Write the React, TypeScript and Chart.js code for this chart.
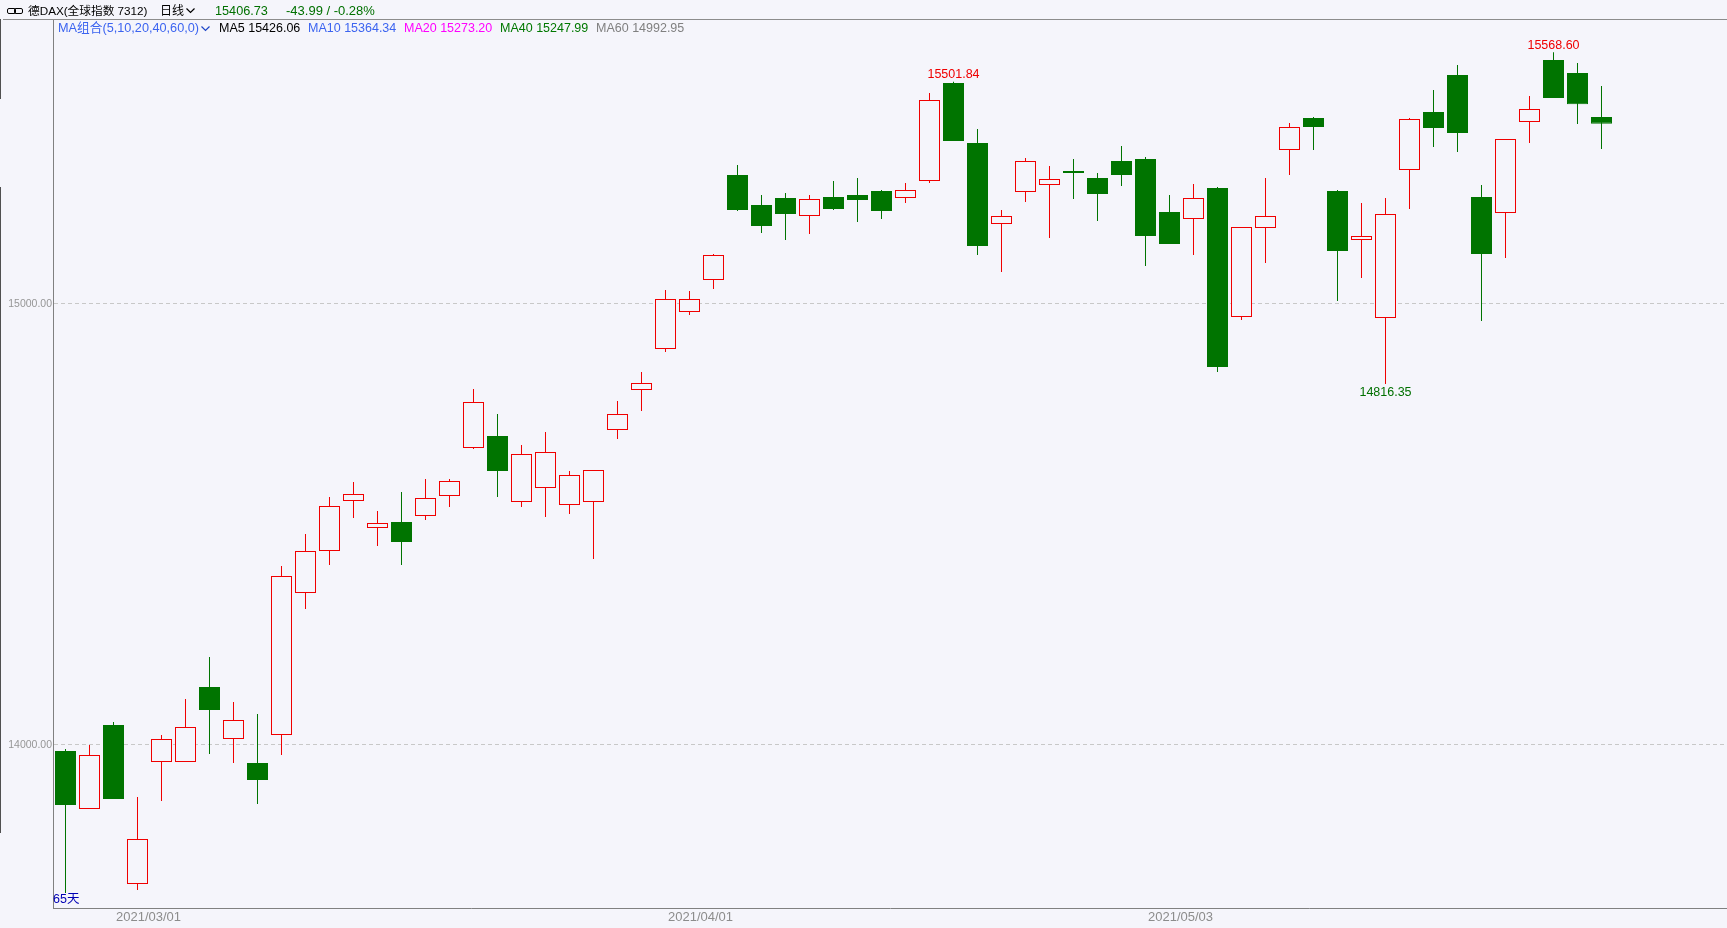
import React, { useEffect, useRef } from "react";
import { Chart, registerables } from "chart.js";

Chart.register(...registerables);

const opens = [
  13984.13, 13852.6, 14043.08, 13682.53, 13959.18, 13959.18, 14129.25, 14011.33, 13956.92, 14020.4,
  14342.4, 14437.65, 14551.02, 14489.8, 14503.4, 14517, 14562.35, 14671.2, 14698.41, 14548.75,
  14580.49, 14541.95, 14548.75, 14712.01, 14802.71, 14895.69, 14979.59, 15052.15, 15290.25, 15222.22,
  15238.1, 15197.28, 15240.37, 15244.9, 15253.98, 15238.1, 15276.64, 15498.86, 15362.81, 15179.14,
  15251.71, 15267.58, 15299.33, 15283.45, 15322, 15326.53, 15206.35, 15190.48, 15260.78, 14968.25,
  15170.07, 15346.94, 15419.51, 15253.98, 15142.85, 14965.98, 15301.59, 15433.11, 15517, 15240.37,
  15204.08, 15410.44, 15551.01, 15521.54, 15421.78,
];
const highs = [
  13988.66, 13997.73, 14049.88, 13879.82, 14020.4, 14102.04, 14197.28, 14095.24, 14068.02, 14403.64,
  14476.19, 14560.09, 14594.1, 14528.35, 14571.42, 14600.9, 14600.9, 14804.98, 14748.29, 14678,
  14707.48, 14619.05, 14621.32, 14777.78, 14843.54, 15029.48, 15027.21, 15111.11, 15312.93, 15244.9,
  15249.44, 15244.9, 15276.65, 15283.45, 15256.24, 15272.11, 15476.19, 15501.84, 15394.56, 15210.88,
  15328.8, 15310.66, 15326.53, 15294.79, 15356.01, 15331.07, 15244.9, 15269.85, 15263.05, 15172.34,
  15283.45, 15408.17, 15421.78, 15256.24, 15226.76, 15238.1, 15419.51, 15482.99, 15539.68, 15267.58,
  15371.88, 15469.38, 15568.6, 15544.21, 15492.06,
];
const lows = [
  13662.13, 13852.6, 13875.28, 13668.93, 13870.75, 13959.18, 13977.32, 13956.92, 13863.94, 13975.05,
  14306.12, 14405.9, 14512.47, 14448.99, 14405.9, 14507.94, 14537.42, 14668.93, 14560.09, 14537.42,
  14514.74, 14521.54, 14419.5, 14691.6, 14755.1, 14888.89, 14972.79, 15031.75, 15208.62, 15158.73,
  15142.85, 15156.46, 15210.88, 15183.68, 15190.48, 15226.76, 15272.11, 15367.35, 15108.84, 15070.3,
  15229.03, 15147.39, 15235.83, 15185.95, 15265.31, 15083.9, 15133.79, 15108.84, 14843.54, 14961.45,
  15090.7, 15290.25, 15346.94, 15004.54, 15056.69, 14816.35, 15213.15, 15353.75, 15342.41, 14959.18,
  15102.04, 15362.81, 15464.85, 15405.9, 15349.21,
];
const closes = [
  13861.67, 13975.05, 13875.28, 13784.57, 14011.33, 14038.55, 14077.1, 14054.42, 13918.37, 14380.96,
  14437.65, 14539.69, 14566.89, 14501.14, 14458.05, 14557.82, 14596.37, 14775.51, 14619.05, 14657.59,
  14662.13, 14609.97, 14621.32, 14748.29, 14818.59, 15009.07, 15009.07, 15108.84, 15210.88, 15174.6,
  15201.82, 15235.83, 15213.15, 15233.56, 15208.62, 15256.24, 15460.31, 15367.35, 15129.25, 15197.28,
  15322, 15281.18, 15294.79, 15247.17, 15290.25, 15151.92, 15133.79, 15238.1, 14854.88, 15172.34,
  15197.28, 15399.1, 15399.1, 15117.92, 15151.92, 15201.82, 15417.24, 15396.83, 15385.49, 15111.11,
  15371.88, 15439.91, 15464.85, 15450.72, 15406.73,
];

const dateTickIndexes = [3, 26, 46];
const dateTickLabels = ["2021/03/01", "2021/04/01", "2021/05/03"];
const priceTicks = [14000, 15000];
const extremeNotes = [
  { index: 37, field: "high", text: "15501.84", color: "#f00000" },
  { index: 62, field: "high", text: "15568.60", color: "#f00000" },
  { index: 55, field: "low", text: "14816.35", color: "#007000" },
];
const countLabel = "65天";

const maReadouts = [
  { text: "MA5 15426.06", color: "#000000", left: 219 },
  { text: "MA10 15364.34", color: "#3c64f0", left: 308 },
  { text: "MA20 15273.20", color: "#ff00ff", left: 404 },
  { text: "MA40 15247.99", color: "#007800", left: 500 },
  { text: "MA60 14992.95", color: "#808080", left: 596 },
];

const BG = "#f5f5fb";
const RED = "#f00000";
const GREEN = "#007400";
const FONT = '"Liberation Sans", "Noto Sans CJK SC", sans-serif';

const isUp = (i: number) => closes[i] >= opens[i];

const notesPlugin = {
  id: "notes",
  afterDatasetsDraw(chart: any) {
    const { ctx, scales } = chart;
    ctx.save();
    ctx.font = `12.5px ${FONT}`;
    ctx.textAlign = "center";
    ctx.textBaseline = "middle";
    for (const n of extremeNotes) {
      const value = n.field === "high" ? highs[n.index] : lows[n.index];
      const offset = n.field === "high" ? -7 : 9;
      ctx.fillStyle = n.color;
      ctx.fillText(n.text, scales.x.getPixelForValue(n.index), scales.y.getPixelForValue(value) + offset);
    }
    ctx.fillStyle = "#0000b4";
    ctx.textAlign = "left";
    ctx.fillText(countLabel, chart.chartArea.left, chart.chartArea.bottom - 8);
    ctx.restore();
  },
};

function Chevron({ left, top, color }: { left: number; top: number; color: string }) {
  return (
    <svg style={{ position: "absolute", left, top }} width="9" height="6" viewBox="0 0 9 6">
      <path d="M0.5 0.5 L4.5 4.5 L8.5 0.5" fill="none" stroke={color} strokeWidth="1.2" />
    </svg>
  );
}

const text = (left: number, top: number, color: string, size = 12.5): React.CSSProperties => ({
  position: "absolute",
  left,
  top,
  color,
  font: `${size}px ${FONT}`,
  lineHeight: "16px",
  whiteSpace: "pre",
});

export default function App() {
  const ref = useRef<HTMLCanvasElement>(null);

  useEffect(() => {
    const indexes = opens.map((_, i) => i);
    const chart = new Chart(ref.current as HTMLCanvasElement, {
      type: "bar",
      data: {
        datasets: [
          {
            label: "wick",
            order: 2,
            grouped: false,
            barThickness: 1,
            borderWidth: 0,
            inflateAmount: 0,
            backgroundColor: indexes.map((i) => (isUp(i) ? RED : GREEN)),
            data: indexes.map((i) => ({ x: i, y: [lows[i], highs[i]] })),
          },
          {
            label: "body",
            order: 1,
            grouped: false,
            barThickness: 21,
            borderWidth: 1,
            borderSkipped: false,
            inflateAmount: 0,
            backgroundColor: indexes.map((i) => (isUp(i) ? BG : GREEN)),
            borderColor: indexes.map((i) => (isUp(i) ? RED : GREEN)),
            data: indexes.map((i) => ({ x: i, y: [opens[i], closes[i]] })),
          },
        ] as any,
      },
      options: {
        animation: false,
        responsive: false,
        devicePixelRatio: 1,
        layout: { padding: { top: 19, left: 0, right: 0, bottom: 0 } },
        plugins: { legend: { display: false }, tooltip: { enabled: false }, title: { display: false } },
        scales: {
          x: {
            type: "linear",
            offset: false,
            min: -0.5208,
            max: 69.2292,
            afterFit: (s: any) => {
              s.height = 20;
            },
            afterBuildTicks: (s: any) => {
              s.ticks = dateTickIndexes.map((value) => ({ value }));
            },
            grid: { display: false, drawTicks: false, offset: false },
            border: { color: "#808080", width: 1 },
            ticks: {
              autoSkip: false,
              maxRotation: 0,
              padding: 2,
              labelOffset: 11,
              color: "#8c8c8c",
              font: { family: FONT, size: 13 },
              callback: (v: any) => dateTickLabels[dateTickIndexes.indexOf(v)],
            },
          },
          y: {
            type: "linear",
            min: 13628.12,
            max: 15643.99,
            afterFit: (s: any) => {
              s.width = 53;
            },
            afterBuildTicks: (s: any) => {
              s.ticks = priceTicks.map((value) => ({ value }));
            },
            grid: { color: "#c8c8c8", drawTicks: false },
            border: { color: "#808080", width: 1, dash: [4, 3] },
            ticks: {
              padding: 1,
              labelOffset: 1,
              color: "#969696",
              font: { family: FONT, size: 10.5 },
              callback: (v: any) => Number(v).toFixed(2),
            },
          },
        },
      } as any,
      plugins: [notesPlugin],
    });
    return () => chart.destroy();
  }, []);

  return (
    <div style={{ position: "fixed", left: 0, top: 0, width: 1727, height: 928, background: BG, overflow: "hidden" }}>
      <canvas ref={ref} width={1727} height={928} style={{ position: "absolute", left: 0, top: 0, width: 1727, height: 928 }} />
      <div style={{ position: "absolute", left: 3, right: 0, top: 19, height: 1, background: "#8c8c8c" }} />
      <div style={{ position: "absolute", left: 0, top: 19, width: 1, height: 80, background: "#505050" }} />
      <div style={{ position: "absolute", left: 0, top: 187, width: 1, height: 646, background: "#505050" }} />
      <div style={{ position: "absolute", left: 7, top: 8, width: 7, height: 4, border: "1px solid #000", borderRadius: 2 }} />
      <div style={{ position: "absolute", left: 14, top: 8, width: 7, height: 4, border: "1px solid #000", borderRadius: 2 }} />
      <div style={text(28, 3, "#000000", 11.7)}>德DAX(全球指数 7312)</div>
      <div style={text(160, 3, "#000000", 12)}>日线</div>
      <Chevron left={186} top={8} color="#000000" />
      <div style={text(215, 3, "#007000", 12.7)}>15406.73</div>
      <div style={text(286, 3, "#007000", 13)}>-43.99 / -0.28%</div>
      <div style={text(58, 20, "#3c64f0", 12.7)}>MA组合(5,10,20,40,60,0)</div>
      <Chevron left={201} top={26} color="#1e46c8" />
      {maReadouts.map((m) => (
        <div key={m.text} style={text(m.left, 20, m.color)}>
          {m.text}
        </div>
      ))}
    </div>
  );
}
